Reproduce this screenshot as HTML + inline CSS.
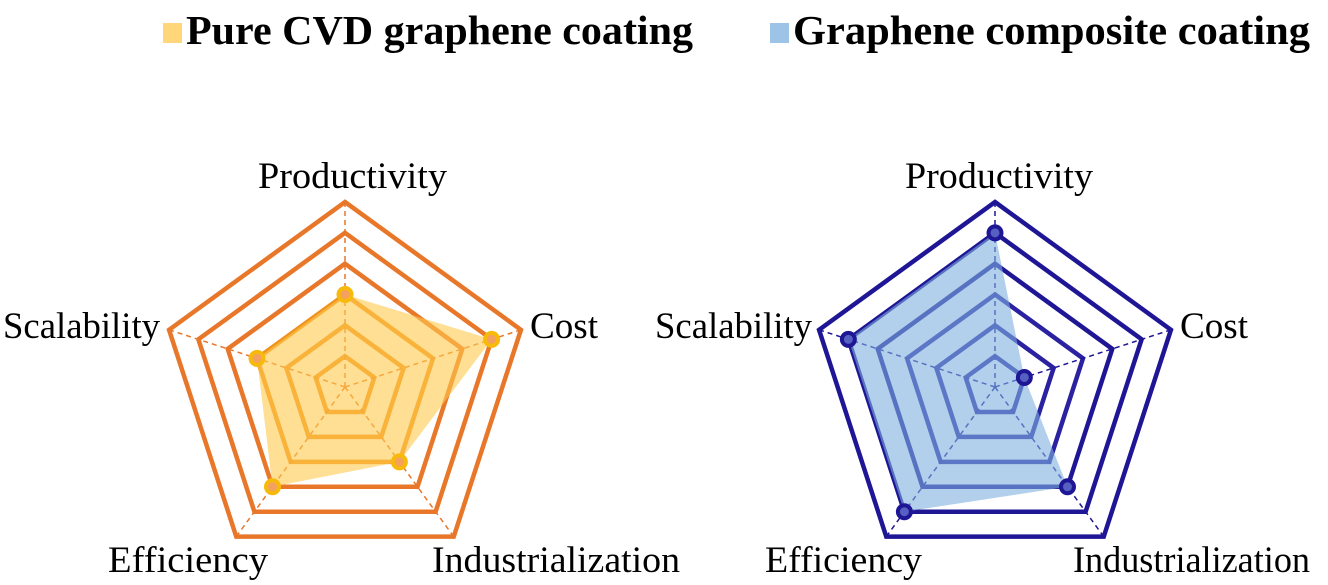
<!DOCTYPE html>
<html><head><meta charset="utf-8"><style>
body{margin:0;background:#fff;}
svg{display:block;font-family:"Liberation Serif",serif;}
</style></head><body>
<svg id="chart" width="1328" height="585" viewBox="0 0 1328 585">
<g>
<rect x="163" y="23" width="19" height="20" fill="#FFD77A"/>
<text x="186" y="44" font-size="41" font-weight="bold" textLength="507" lengthAdjust="spacingAndGlyphs">Pure CVD graphene coating</text>
<rect x="770" y="23" width="19" height="20" fill="#9DC3E6"/>
<text x="793" y="44" font-size="41" font-weight="bold" textLength="517" lengthAdjust="spacingAndGlyphs">Graphene composite coating</text>
</g>
</svg>
<script>
const categories = ["Productivity","Cost","Industrialization","Efficiency","Scalability"];
const pureValues = [3,5,3,4,3];
const compositeValues = [5,1,4,5,5];
const ringLevels = [1,2,3,4,5,6];
const NS="http://www.w3.org/2000/svg";
const svg=document.getElementById('chart');
function mk(tag,attrs,parent){const e=document.createElementNS(NS,tag);for(const k in attrs)e.setAttribute(k,attrs[k]);(parent||svg).appendChild(e);return e;}
function pt(cx,cy,R,max,i,v){const a=-Math.PI/2+i*2*Math.PI/5;const r=R*v/max;return [cx+r*Math.cos(a),cy+r*Math.sin(a)];}
function radar(cfg){
  const g=mk('g',{});
  
  
  const max=6;
  ringLevels.forEach((lv,j)=>{
    const pts=categories.map((c,i)=>pt(cfg.cx,cfg.cy,cfg.R,max,i,lv).join(',')).join(' ');
    const p=mk('polygon',{points:pts,fill:'none',stroke:lv>3?cfg.outer:cfg.inner,'stroke-width':4.5,'stroke-linejoin':'miter'},g);
    
    
  });
  categories.forEach((c,i)=>{
    const [x,y]=pt(cfg.cx,cfg.cy,cfg.R,max,i,max);
    const l=mk('line',{x1:cfg.cx,y1:cfg.cy,x2:x,y2:y,stroke:cfg.outer,'stroke-width':1.5,'stroke-dasharray':'5,4'},g);
    
    
  });
  const dpts=cfg.values.map((v,i)=>pt(cfg.cx,cfg.cy,cfg.R,max,i,v));
  const area=mk('polygon',{points:dpts.map(p=>p.join(',')).join(' '),fill:cfg.fill,'fill-opacity':cfg.op},g);
  
  
  dpts.forEach((p,i)=>{
    const c=mk('circle',{cx:p[0],cy:p[1],r:6.5,fill:cfg.dotFill,stroke:cfg.dot,'stroke-width':4},g);
    
    
  });
  cfg.labels.forEach((lb,i)=>{
    const t=mk('text',{x:lb[0],y:lb[1],'font-size':37,textLength:lb[2],lengthAdjust:'spacingAndGlyphs',fill:'#000'},g);
    t.textContent=categories[i];
    
    
  });
}
radar({name:'radar-pure-cvd',cx:345,cy:387,R:185,values:pureValues,outer:'#E8772A',inner:'#F0921E',fill:'#FFC94D',op:0.6,dot:'#F7BA0B',dotFill:'#F3A060',
  labels:[[258,188,189],[530,338,68],[432,572,248],[108,572,160],[3,338,157]]});
radar({name:'radar-composite',cx:995,cy:387,R:185,values:compositeValues,outer:'#1F1696',inner:'#2A22A0',fill:'#7FB0E0',op:0.6,dot:'#1F1696',dotFill:'#5560C0',
  labels:[[905,188,188],[1180,338,68],[1073,572,237],[765,572,157],[655,338,157]]});
</script>
</body></html>
